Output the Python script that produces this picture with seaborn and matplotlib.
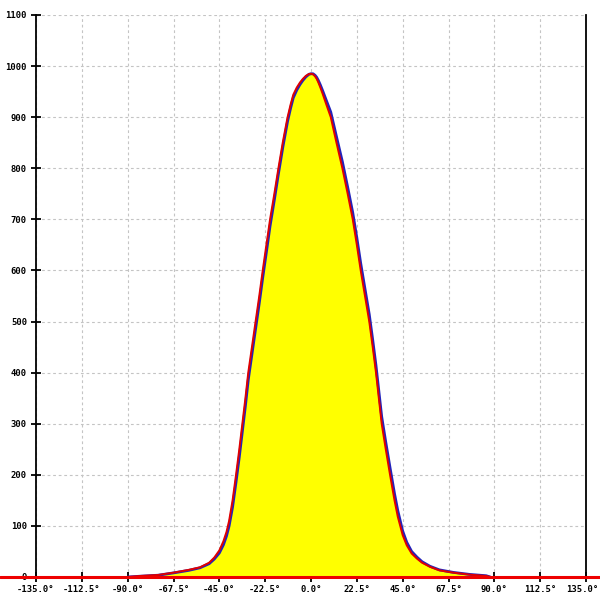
import matplotlib
matplotlib.use("Agg")
import matplotlib.pyplot as plt
import matplotlib.transforms as mtransforms
import pandas as pd
import seaborn as sns

# angle (deg) and counts
angles = [-90, -84, -75, -67.5, -60, -54.5, -50, -47.5, -45, -43,
          -41.5, -40.2, -38.5, -36.8, -35.2, -33.7, -32.2, -30.8, -29, -27.2,
          -25.4, -23.7, -21.9, -20.1, -18, -16, -13.8, -11.5, -10, -8.7,
          -7, -5.4, -4, -2.5, -1, 0, 1, 2, 2.8, 3.6,
          4.6, 5.7, 7.5, 9.7, 12.5, 15.4, 18, 20.5, 22.5, 24.4,
          26.5, 28.6, 30.3, 31.9, 33.3, 34.7, 36.7, 38.8, 41, 42.6,
          43.8, 45, 47, 49.4, 52, 54.5, 58.4, 63, 69.9, 78, 86, 88]
red_vals = [0, 2, 4, 8.5, 14, 19, 28, 38, 52, 70,
            88, 110, 150, 200, 250, 300, 350, 400, 450, 500,
            550, 600, 650, 700, 750, 800, 852, 900, 925, 944,
            958, 968, 975, 981, 984.5, 985, 984, 980, 975, 968,
            958, 946, 925, 900, 850, 800, 750, 700, 650, 600,
            550, 500, 450, 400, 350, 300, 250, 200, 150, 118,
            100, 82, 62, 46, 36, 28, 20, 13, 8.5, 4.5, 2, 0]
blue_vals = [0, 1.5, 3.5, 8, 13, 18, 26, 35, 47, 63,
             80, 100, 137, 186, 235, 285, 335, 386, 436, 486,
             536, 586, 636, 687, 738, 789, 842, 892, 918, 938,
             953, 964, 972, 979, 984, 985, 985, 982, 978, 972,
             963, 952, 933, 910, 862, 813, 763, 713, 664, 614,
             564, 514, 464, 414, 364, 314, 264, 214, 163, 130,
             110, 90, 68, 50, 39, 30, 21, 14, 9, 5, 2.5, 0]

x_ticks = [-135, -112.5, -90, -67.5, -45, -22.5, 0, 22.5, 45, 67.5, 90, 112.5, 135]
y_ticks = list(range(0, 1200, 100))

df = pd.DataFrame({"angle": angles, "red": red_vals, "blue": blue_vals})

sns.set_style("white")
plt.rcParams["font.family"] = ["DejaVu Sans Mono", "DejaVu Sans"]

fig = plt.figure(figsize=(6, 6), dpi=100)
ax = fig.add_axes([36 / 600, 23 / 600, 550 / 600, 562 / 600])

ax.fill_between(df["angle"], df["red"], 0, color="#ffff00", zorder=2, linewidth=0)
sns.lineplot(data=df, x="angle", y="blue", color="#2222bb", linewidth=2.0, ax=ax, zorder=3)
sns.lineplot(data=df, x="angle", y="red", color="#e00000", linewidth=1.4, ax=ax, zorder=4)

# red zero line running across the whole figure
ax.axhline(0, xmin=-36 / 550, xmax=564 / 550, color="#ee0000", linewidth=2.2,
           clip_on=False, zorder=5)

ax.set_xlim(-135, 135)
ax.set_ylim(0, 1100)
ax.set_xticks(x_ticks)
ax.set_xticklabels([f"{v:.1f}°" for v in x_ticks])
ax.set_yticks(y_ticks)
ax.set_yticklabels([str(v) for v in y_ticks])
ax.set_xlabel("")
ax.set_ylabel("")

ax.grid(True, color="#c4c4c4", linestyle=(0, (2.5, 2.5)), linewidth=0.8, zorder=0)
ax.set_axisbelow(True)

for side in ["top", "bottom"]:
    ax.spines[side].set_visible(False)
for side in ["left", "right"]:
    ax.spines[side].set_color("black")
    ax.spines[side].set_linewidth(1.3)

ax.tick_params(axis="both", direction="inout", length=7, width=1.3, colors="black",
               labelsize=6.4, bottom=True, left=True)
ax.tick_params(axis="x", pad=2)
ax.tick_params(axis="y", pad=3)
for lab in ax.get_xticklabels() + ax.get_yticklabels():
    lab.set_fontweight("bold")

# keep the last x label inside the figure
last = ax.get_xticklabels()[-1]
last.set_transform(last.get_transform() +
                   mtransforms.ScaledTranslation(-4 / 100, 0, fig.dpi_scale_trans))

fig.savefig("out.png", dpi=100)
